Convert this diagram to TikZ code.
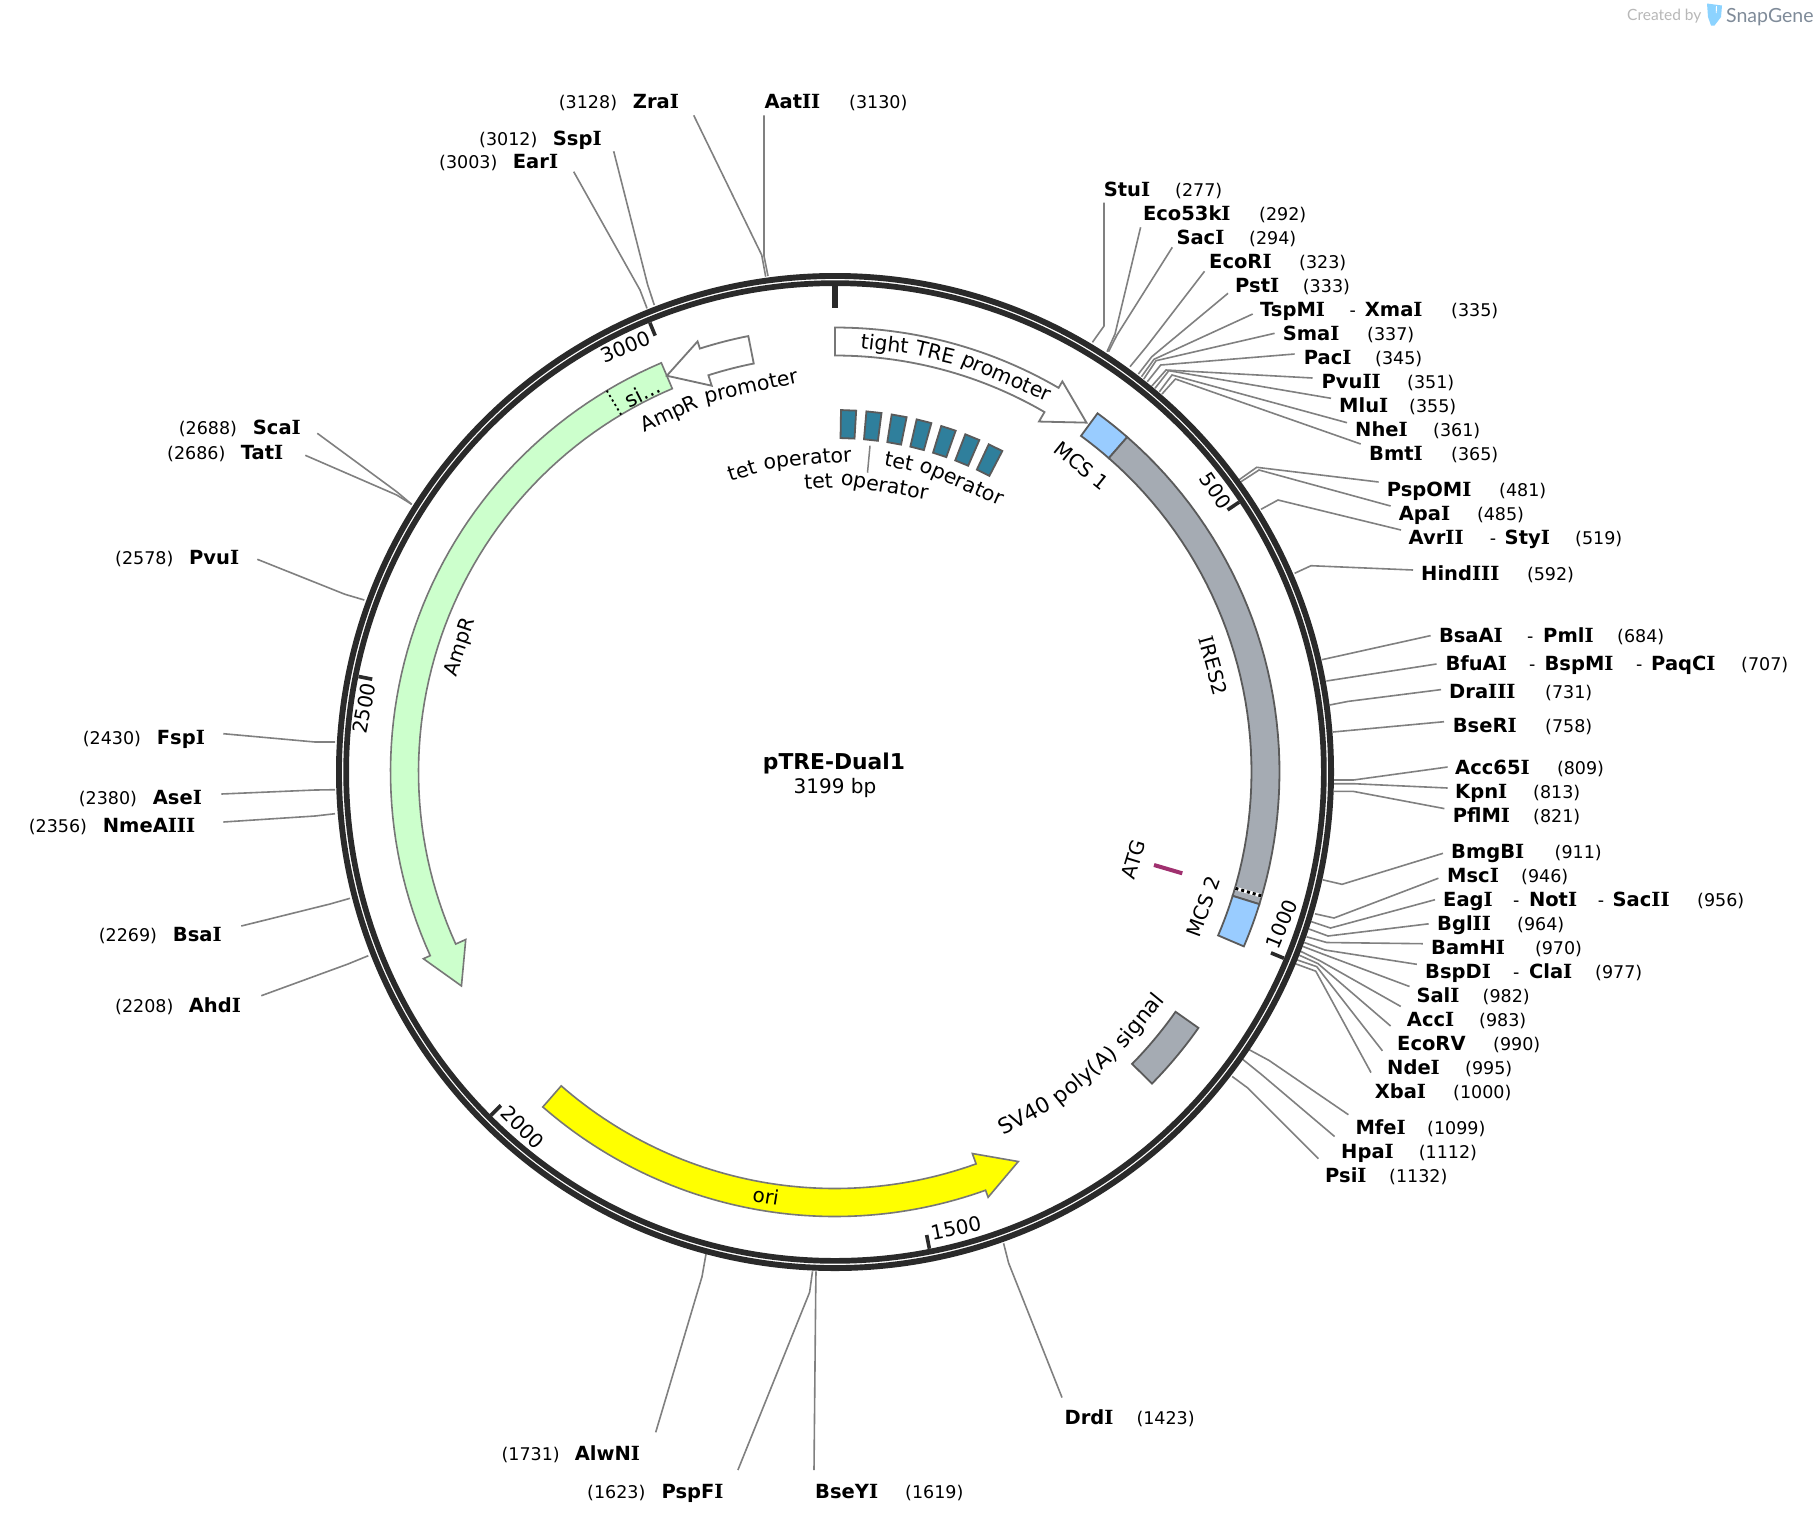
\documentclass[tikz,border=0pt]{standalone}
\usepackage{fontspec}
\setmainfont{DejaVu Sans}
\newfontfamily\logofont{Lato}
\newfontfamily\slabfont{DejaVu Serif}
\newcommand{\Ii}{{\slabfont I}}
\definecolor{ringc}{HTML}{2A2A2A}
\definecolor{linkc}{HTML}{808080}
\definecolor{edgec}{HTML}{777777}
\definecolor{darkedge}{HTML}{5A5A5A}
\definecolor{greyfill}{HTML}{A5ABB3}
\definecolor{bluefill}{HTML}{99CCFF}
\definecolor{greenfill}{HTML}{CCFFCC}
\definecolor{yellowfill}{RGB}{255,255,0}
\definecolor{tealfill}{HTML}{2F7F9C}
\definecolor{magentac}{HTML}{A0306F}
\definecolor{logoblue}{HTML}{8CD3FF}
\definecolor{logogrey}{HTML}{7F8B99}
\definecolor{logolight}{HTML}{B8B8B8}
\newcommand{\lab}{\fontsize{20}{24}\selectfont}
\newcommand{\Bn}[2]{\makebox[#1pt][l]{\fontsize{19.5}{22}\selectfont\bfseries #2}}
\newcommand{\Nm}[2]{\makebox[#1pt][l]{#2}}
% id, label pos, content, ring, elbow, end
\newcommand{\site}[6]{%
  \node[enzlabel,yshift=-7pt] (#1) at (#2) {#3};
  \coordinate (#1 r) at (#4);
  \coordinate (#1 k) at (#5);
  \coordinate (#1 e) at (#6);
  \draw[linkline] (#1 r) -- (#1 k) -- (#1 e);
}
% style, a1, a2
\newcommand{\band}[3]{%
  \draw[#1] plot[domain=#2:#3,samples=40] ({px(444.5,\x)},{py(444.5,\x)})
    -- plot[domain=#3:#2,samples=40] ({px(416.5,\x)},{py(416.5,\x)}) -- cycle;
}
% style, tail, shoulder, point
\newcommand{\arcarrow}[4]{%
  \draw[#1] plot[domain=#2:#3,samples=60] ({px(444.5,\x)},{py(444.5,\x)})
    -- ({px(452,#3)},{py(452,#3)}) -- ({px(430.5,#4)},{py(430.5,#4)}) -- ({px(405.5,#3)},{py(405.5,#3)})
    -- plot[domain=#3:#2,samples=60] ({px(416.5,\x)},{py(416.5,\x)}) -- cycle;
}
% id, radius, angle, text : word on an arc, read clockwise
\newcommand{\wordtop}[4]{%
  \node[arcword,rotate=-#3] (#1) at ({px(#2,#3)},{py(#2,#3)}) {#4};
}
% id, radius, angle, text : word on an arc, read anticlockwise
\newcommand{\wordlow}[4]{%
  \node[arcword,font=\fontsize{21.5}{24}\selectfont,rotate={180-#3}] (#1) at ({px(#2,#3)},{py(#2,#3)}) {#4};
}
\tikzset{
  enzlabel/.style={anchor=base west,inner sep=0pt,font=\fontsize{17.5}{20}\selectfont},
  arcword/.style={anchor=base,inner sep=0pt,font=\fontsize{20.5}{24}\selectfont},
  linkline/.style={draw=linkc,line width=1.6pt},
  ticklabel/.style={inner sep=0pt,font=\lab},
  featlabel/.style={inner sep=0pt,font=\lab},
  tickmark/.style={draw=ringc,line width=3.6pt},
  whitearrow/.style={draw=edgec,fill=white,line width=1.8pt},
  greenarrow/.style={draw=edgec,fill=greenfill,line width=1.6pt},
  yellowarrow/.style={draw=edgec,fill=yellowfill,line width=1.6pt},
  greyband/.style={draw=darkedge,fill=greyfill,line width=1.8pt},
  blueband/.style={draw=darkedge,fill=bluefill,line width=1.8pt},
  tetblock/.style={draw=darkedge,fill=tealfill,line width=1.8pt},
  ringline/.style={draw=ringc},
  dotline/.style={draw=black,line width=1.8pt,dash pattern=on 2.2pt off 3pt},
  dotthick/.style={draw=black,line width=3pt,dash pattern=on 3pt off 3pt},
}
\begin{document}
\begin{tikzpicture}[x=1pt,y=-1pt,
  declare function={px(\r,\a)=835+\r*sin(\a); py(\r,\a)=772-\r*cos(\a);}]
\useasboundingbox (0,0) rectangle (1820,1524);
\fill[white] (0,0) rectangle (1820,1524);

% logo
\node[inner sep=0pt,anchor=west,text=logolight,font=\logofont\fontsize{15.5}{18}\selectfont] (logoA) at (1627,16.5) {Created by};
\fill[logoblue] (1707,3.5) -- (1722,5.5) -- (1721,17) -- (1714.5,25.5) -- (1711,25.5) -- (1708,17) -- cycle;
\fill[white] (1716,6) -- (1717,6) -- (1716.6,13) -- (1715.8,13) -- cycle;
\node[inner sep=0pt,anchor=west,text=logogrey,font=\logofont\fontsize{19.5}{22}\selectfont] (logoB) at (1726,17.5) {SnapGene};

% enzyme sites
\site{StuI}{1103.6,189.3}{\Bn{71.4}{Stu\Ii}(277)}{1092.4,342.3}{1104,326}{1104,202.7}
\site{Eco53kI}{1142.9,213.3}{\Bn{116.1}{Eco53k\Ii}(292)}{1107,351.7}{1115,334}{1140.6,227.3}
\site{SacI}{1176.3,237.3}{\Bn{72.7}{Sac\Ii}(294)}{1108.5,351.7}{1117,335}{1172.3,247.3}
\site{EcoRI}{1209,261.3}{\Bn{90}{EcoR\Ii}(323)}{1130,366.7}{1147,346}{1204.5,271.3}
\site{PstI}{1235,285}{\Bn{67.7}{Pst\Ii}(333)}{1138.4,374}{1151.8,356.7}{1228,293.3}
\site{TspMI}{1260,309}{\Bn{89.5}{TspM\Ii}\Nm{15.2}{-}\Bn{86.3}{Xma\Ii}(335)}{1141.5,376.7}{1154,359.3}{1252.7,314}
\site{SmaI}{1282.6,333.3}{\Bn{84.4}{Sma\Ii}(337)}{1143.8,379}{1156,360.7}{1274.6,333.3}
\site{PacI}{1303.6,357}{\Bn{71.4}{Pac\Ii}(345)}{1147.3,381.7}{1160.7,365}{1294.6,354}
\site{PvuII}{1321.4,381}{\Bn{85.6}{Pvu\Ii\Ii}(351)}{1151.8,386}{1166,370}{1312.5,378}
\site{MluI}{1339,405}{\Bn{70}{Mlu\Ii}(355)}{1155,388.3}{1168.8,370.7}{1331,398.3}
\site{NheI}{1355,429}{\Bn{78}{Nhe\Ii}(361)}{1159.4,391.7}{1172,375}{1347,422.7}
\site{BmtI}{1369,453.3}{\Bn{82}{Bmt\Ii}(365)}{1162,394}{1175.4,379}{1360.7,444}
\site{PspOMI}{1386.6,489.3}{\Bn{112.4}{PspOM\Ii}(481)}{1238.8,480}{1256.7,467.3}{1378.6,482}
\site{ApaI}{1398.6,513.3}{\Bn{78.2}{Apa\Ii}(485)}{1241,481.7}{1259,470}{1390.6,506}
\site{AvrII}{1408.5,537.3}{\Bn{81.2}{Avr\Ii\Ii}\Nm{14.8}{-}\Bn{70.5}{Sty\Ii}(519)}{1261,509.3}{1278,500}{1401,530}
\site{HindIII}{1421,573.3}{\Bn{105.8}{Hind\Ii\Ii\Ii}(592)}{1294.6,573.3}{1311,565.7}{1413,570}
\site{BsaAI}{1438.8,635.2}{\Bn{88.2}{BsaA\Ii}\Nm{16}{-}\Bn{74}{Pml\Ii}(684)}{1321.8,659.7}{1340,655.7}{1430.6,635.6}
\site{BfuAI}{1445.3,663.1}{\Bn{83.7}{BfuA\Ii}\Nm{15.4}{-}\Bn{91.4}{BspM\Ii}\Nm{15.2}{-}\Bn{90}{PaqC\Ii}(707)}{1326.4,681}{1345,678.1}{1436.5,664}
\site{DraIII}{1449,691}{\Bn{96}{Dra\Ii\Ii\Ii}(731)}{1329.6,705}{1348,701.4}{1441,689.6}
\site{BseRI}{1452.6,725}{\Bn{92.4}{BseR\Ii}(758)}{1332.8,732}{1350,730.4}{1444,721.7}
\site{Acc65I}{1455,767.2}{\Bn{101.8}{Acc65\Ii}(809)}{1334,780}{1353.4,780}{1447.6,767}
\site{KpnI}{1455,791.4}{\Bn{78}{Kpn\Ii}(813)}{1334,783.7}{1353.4,783.7}{1447.6,788}
\site{PflMI}{1452.6,815}{\Bn{80.4}{PflM\Ii}(821)}{1334,791.4}{1353.4,791.4}{1444.4,808.6}
\site{BmgBI}{1451,851}{\Bn{103.5}{BmgB\Ii}(911)}{1322.7,879.8}{1342,884.3}{1443,853.3}
\site{MscI}{1447,875.5}{\Bn{74}{Msc\Ii}(946)}{1315,913.8}{1334,918}{1438.4,878.2}
\site{EagI}{1443,899.3}{\Bn{70}{Eag\Ii}\Nm{15.8}{-}\Bn{68.9}{Not\Ii}\Nm{14.7}{-}\Bn{84.6}{Sac\Ii\Ii}(956)}{1311,921.5}{1330.5,928}{1435,899.7}
\site{BglII}{1437,923.4}{\Bn{80}{Bgl\Ii\Ii}(964)}{1309,929}{1328,936}{1428.7,923.8}
\site{BamHI}{1431,947}{\Bn{103.8}{BamH\Ii}(970)}{1306.6,936.8}{1326.8,942.5}{1422.8,943.7}
\site{BspDI}{1425,971.2}{\Bn{88}{BspD\Ii}\Nm{15.8}{-}\Bn{66.2}{Cla\Ii}(977)}{1304.3,942.5}{1325,950}{1416.8,964.3}
\site{SalI}{1416.3,995.3}{\Bn{66.2}{Sal\Ii}(982)}{1302.5,946.3}{1322.7,954}{1409.5,986.5}
\site{AccI}{1406.7,1019.4}{\Bn{72.3}{Acc\Ii}(983)}{1300.6,951.3}{1319.5,960.5}{1400.7,1006.4}
\site{EcoRV}{1397,1043.2}{\Bn{96}{EcoRV}(990)}{1298.8,955}{1318,963.6}{1390.6,1026}
\site{NdeI}{1387,1067}{\Bn{78}{Nde\Ii}(995)}{1296.5,959.7}{1316.7,966.6}{1382.4,1050.8}
\site{XbaI}{1374.6,1091}{\Bn{78.4}{Xba\Ii}(1000)}{1295,963.6}{1315.8,971.2}{1371,1072.6}
\site{MfeI}{1355.3,1127.4}{\Bn{71.7}{Mfe\Ii}(1099)}{1249.2,1049.7}{1269,1060.4}{1348.4,1114.7}
\site{HpaI}{1341,1151.5}{\Bn{77.6}{Hpa\Ii}(1112)}{1242.3,1059}{1261.6,1074.6}{1334.6,1136.5}
\site{PsiI}{1325,1175.6}{\Bn{64}{Psi\Ii}(1132)}{1232.2,1076.5}{1247.8,1088}{1318.5,1158.7}
\site{DrdI}{1064.4,1417}{\Bn{71.9}{Drd\Ii}(1423)}{1003.6,1243.3}{1008.6,1263}{1062,1397.5}
\site{BseYI}{815,1491.7}{\Bn{90}{BseY\Ii}(1619)}{816,1271.3}{815.7,1292}{814,1470}
\site{PspFI}{587,1491.7}{\Nm{74.4}{(1623)}\Bn{60}{PspF\Ii}}{812.5,1271.3}{809.6,1292.3}{737.9,1470}
\site{AlwNI}{501.4,1453.3}{\Nm{73.2}{(1731)}\Bn{60}{AlwN\Ii}}{706,1254}{702,1276.7}{655.7,1432.3}
\site{AhdI}{115,1005.7}{\Nm{73.7}{(2208)}\Bn{60}{Ahd\Ii}}{368.3,955.7}{348,964}{261.3,995.7}
\site{BsaI}{98.7,934}{\Nm{74}{(2269)}\Bn{60}{Bsa\Ii}}{350,898.3}{330,904}{241.3,926}
\site{NmeAIII}{28.7,825.7}{\Nm{74}{(2356)}\Bn{90}{NmeA\Ii\Ii\Ii}}{335,813.7}{315,816}{223.3,822}
\site{AseI}{78.7,797.7}{\Nm{74}{(2380)}\Bn{60}{Ase\Ii}}{335,789.7}{315,790}{221.3,794}
\site{FspI}{82.7,737.7}{\Nm{74}{(2430)}\Bn{60}{Fsp\Ii}}{335,742}{315,742}{223.3,733.7}
\site{PvuI}{115,557.7}{\Nm{74}{(2578)}\Bn{60}{Pvu\Ii}}{364.3,600}{345,594.3}{257.3,559.3}
\site{TatI}{167,452}{\Nm{73.7}{(2686)}\Bn{60}{Tat\Ii}}{411.7,504.3}{396.7,495}{305.3,455.3}
\site{ScaI}{178.7,427.3}{\Nm{74}{(2688)}\Bn{60}{Sca\Ii}}{411.7,504.3}{396.7,491.7}{317.3,433.3}
\site{EarI}{439,161.7}{\Nm{73.7}{(3003)}\Bn{60}{Ear\Ii}}{647,308.3}{640,290}{573.7,171.7}
\site{SspI}{479,138.3}{\Nm{73.7}{(3012)}\Bn{60}{Ssp\Ii}}{654.3,305}{647.7,285}{613.7,151.3}
\site{ZraI}{558.7,101.7}{\Nm{74}{(3128)}\Bn{60}{Zra\Ii}}{765.7,276.7}{761.7,255}{693.7,115.3}
\site{AatII}{764.3,101.7}{\Bn{84.7}{Aat\Ii\Ii}(3130)}{768,276}{764,256}{764,115.3}

% backbone
\coordinate (centre) at (835,772);
\draw[ringline,line width=5.9pt] (centre) circle[radius=496.05pt];
\draw[ringline,line width=5.7pt] (centre) circle[radius=488.85pt];
\draw[tickmark,line width=5.6pt] ({px(486,0)},{py(486,0)}) -- ({px(464,0)},{py(464,0)});
\foreach \p in {500,1000,1500,2000,2500,3000}{
  \pgfmathsetmacro{\ang}{\p/3199*360}
  \draw[tickmark] ({px(486,\ang)},{py(486,\ang)}) -- ({px(472,\ang)},{py(472,\ang)});
}
\node[ticklabel,rotate=-56.3] (t500) at (1215.6,490.7) {500};
\node[ticklabel,rotate=67.5] (t1000) at (1281.7,924) {1000};
\node[ticklabel,rotate=11.2] (t1500) at (955.9,1228.3) {1500};
\node[ticklabel,rotate=-45] (t2000) at (522.7,1127.3) {2000};
\node[ticklabel,rotate=78.6] (t2500) at (364,708.3) {2500};
\node[ticklabel,rotate=22.4] (t3000) at (625.7,346.7) {3000};

% features
\arcarrow{greenarrow}{337}{245.6}{240.2}
\draw[dotline] ({px(444.5,329.1)},{py(444.5,329.1)}) -- ({px(416.5,329.1)},{py(416.5,329.1)});
\arcarrow{whitearrow}{348.75}{342.3}{337}
\arcarrow{whitearrow}{0}{30.2}{35.75}
\arcarrow{yellowarrow}{221.1}{160.2}{154.8}
\band{blueband}{36.2}{41.1}
\band{greyband}{41.1}{107.3}
\band{blueband}{107.3}{113.1}
\draw[white,line width=3.6pt] ({px(444,106.2)},{py(444,106.2)}) -- ({px(417,106.2)},{py(417,106.2)});
\draw[dotthick] ({px(444,106.2)},{py(444,106.2)}) -- ({px(417,106.2)},{py(417,106.2)});
\band{greyband}{125.15}{134.5}
\foreach \i in {0,...,6}{
  \pgfmathsetmacro{\aa}{2.15+4.03*\i-1.2}
  \pgfmathsetmacro{\ab}{2.15+4.03*\i+1.2}
  \draw[tetblock] ({px(362,\aa)},{py(362,\aa)}) -- ({px(362,\ab)},{py(362,\ab)}) -- ({px(334,\ab)},{py(334,\ab)}) -- ({px(334,\aa)},{py(334,\aa)}) -- cycle;
}
\coordinate (tetA) at (870,445.7);
\coordinate (tetB) at (867.5,472.7);
\draw[draw=linkc,line width=1.5pt] (tetA) -- (tetB);
\coordinate (atgA) at (1154,865);
\coordinate (atgB) at (1182.3,873.3);
\draw[draw=magentac,line width=4pt] (atgA) -- (atgB);

% labels that follow the arcs, word by word
\wordtop{trea}{424}{6.63}{tight}
\wordtop{treb}{424}{13.42}{TRE}
\wordtop{trec}{424}{23.44}{promoter}
\wordtop{ampa}{388}{-24.83}{AmpR}
\wordtop{ampb}{388}{-12.29}{promoter}
\wordtop{teta}{308}{-17.11}{tet}
\wordtop{tetb}{308}{-5.03}{operator}
\wordtop{tetc}{284}{-3.26}{tet}
\wordtop{tetd}{284}{9.84}{operator}
\wordtop{tete}{310}{11.65}{tet}
\wordtop{tetf}{310}{23.65}{operator}
\wordlow{sva}{400}{151.2}{SV40}
\wordlow{svb}{400}{140.5}{poly(A)}
\wordlow{svc}{400}{129.25}{signal}

% straight labels
\node[featlabel,rotate=71.5] (AmpRlab) at (460.7,647.3) {AmpR};
\node[featlabel,rotate=27,font=\fontsize{21}{24}\selectfont] (silab) at (642.5,392.7) {si...};
\node[featlabel,rotate=-74.3] (IRESlab) at (1213.3,665.7) {\Ii RES2};
\node[featlabel,rotate=-38.9] (MCSa) at (1081.7,465.7) {MCS 1};
\node[featlabel,rotate=70] (MCSb) at (1203.3,906.7) {MCS 2};
\node[featlabel,rotate=73] (ATGlab) at (1133.3,859.3) {ATG};
\node[featlabel,rotate=-9] (orilab) at (766,1196) {ori};

\node[inner sep=0pt,font=\fontsize{21.8}{24}\selectfont\bfseries] (title) at (834,763.7) {pTRE-Dual1};
\node[inner sep=0pt,font=\lab] (size) at (835,788.2) {3199 bp};
\end{tikzpicture}
\end{document}
